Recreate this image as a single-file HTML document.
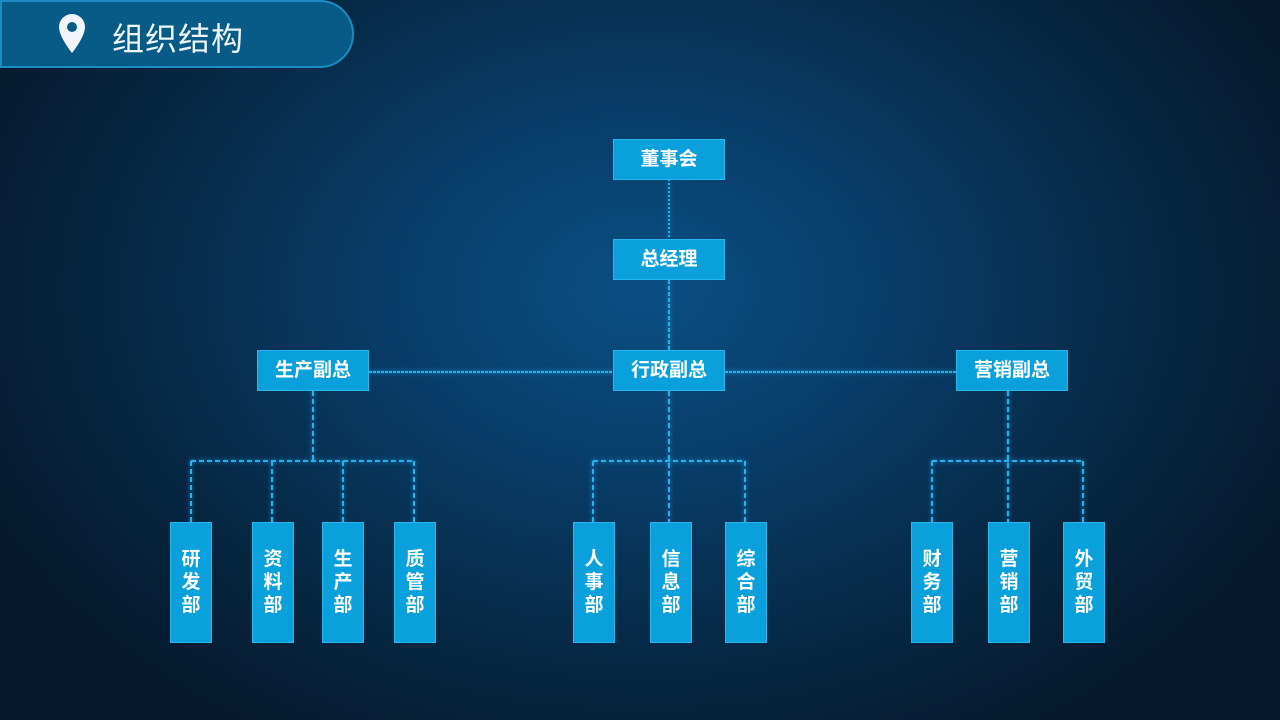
<!DOCTYPE html>
<html><head><meta charset="utf-8"><style>
html,body{margin:0;padding:0}
body{width:1280px;height:720px;overflow:hidden;position:relative;
background:radial-gradient(ellipse 720px 520px at 640px 290px,#0a4f83 0%,#083a64 40%,#062640 75%,#051a2e 100%);
font-family:"Liberation Sans","Noto Sans CJK SC",sans-serif;}
.hdr{position:absolute;left:0;top:0;width:354px;height:68px;background:#075b86;border:2px solid #1b8cc4;border-radius:0 34px 34px 0;box-sizing:border-box;}
.hdr span{position:absolute;left:110px;top:12px;font-size:32px;color:#eef4f8;letter-spacing:1px}
.b{position:absolute;background:#0aa0db;border:1px solid #27b6ee;box-sizing:border-box;color:#fff;font-weight:bold;font-size:19px;text-align:center}
.h{height:41px;width:112px;line-height:40px}
.v{width:42px;height:121px;top:522px;padding-top:25px;line-height:23px}
svg{position:absolute;left:0;top:0}
.lines{filter:drop-shadow(0 0 2px #1ea8f0)}
</style></head><body>
<div class="hdr"><svg width="60" height="67" style="left:50px;top:-2px"><path d="M20 14a13 13 0 0 0-13 13c0 10 13 26 13 26s13-16 13-26a13 13 0 0 0-13-13z" fill="#f2f6fa"/><circle cx="20" cy="27" r="5" fill="#075b86"/></svg><span>组织结构</span></div>
<svg width="1280" height="720" class="lines">
<g stroke="#2bb0ea" stroke-width="2" fill="none">
<line x1="669" y1="179" x2="669" y2="239" stroke-dasharray="2 2"/>
<line x1="669" y1="280" x2="669" y2="350" stroke-dasharray="4 2"/>
<line x1="369" y1="372" x2="613" y2="372" stroke-dasharray="3 1"/>
<line x1="725" y1="372" x2="956" y2="372" stroke-dasharray="3 1"/>
<g stroke-dasharray="5 3">
<line x1="313" y1="391" x2="313" y2="461"/><line x1="669" y1="391" x2="669" y2="522"/><line x1="1008" y1="391" x2="1008" y2="522"/>
<line x1="191" y1="461" x2="413" y2="461"/><line x1="593" y1="461" x2="745" y2="461"/><line x1="932" y1="461" x2="1083" y2="461"/>
<line x1="191" y1="461" x2="191" y2="522"/><line x1="272" y1="461" x2="272" y2="522"/><line x1="343" y1="461" x2="343" y2="522"/><line x1="414" y1="461" x2="414" y2="522"/>
<line x1="593" y1="461" x2="593" y2="522"/><line x1="745" y1="461" x2="745" y2="522"/>
<line x1="932" y1="461" x2="932" y2="522"/><line x1="1083" y1="461" x2="1083" y2="522"/>
</g></g></svg>
<div class="b h" style="left:613px;top:139px">董事会</div>
<div class="b h" style="left:613px;top:239px">总经理</div>
<div class="b h" style="left:257px;top:350px">生产副总</div>
<div class="b h" style="left:613px;top:350px">行政副总</div>
<div class="b h" style="left:956px;top:350px">营销副总</div>
<div class="b v" style="left:170px">研<br>发<br>部</div>
<div class="b v" style="left:252px">资<br>料<br>部</div>
<div class="b v" style="left:322px">生<br>产<br>部</div>
<div class="b v" style="left:394px">质<br>管<br>部</div>
<div class="b v" style="left:573px">人<br>事<br>部</div>
<div class="b v" style="left:650px">信<br>息<br>部</div>
<div class="b v" style="left:725px">综<br>合<br>部</div>
<div class="b v" style="left:911px">财<br>务<br>部</div>
<div class="b v" style="left:988px">营<br>销<br>部</div>
<div class="b v" style="left:1063px">外<br>贸<br>部</div>
</body></html>
